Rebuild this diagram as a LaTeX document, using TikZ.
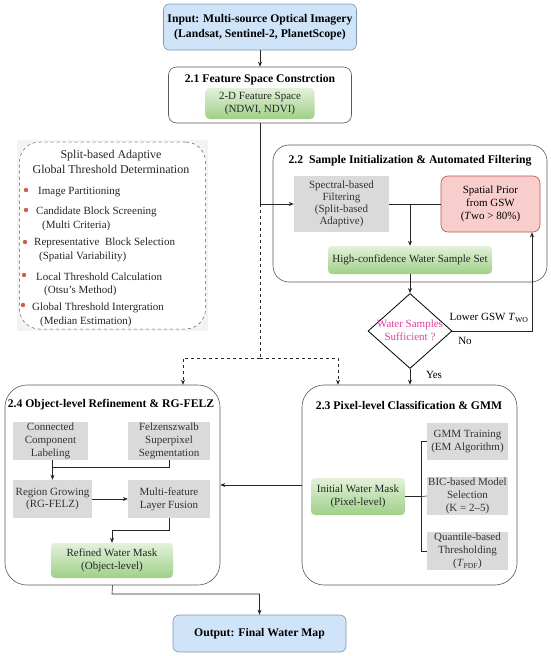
\documentclass[tikz,border=0pt]{standalone}
\usepackage{fontspec}
\setmainfont{Liberation Serif}
\usetikzlibrary{shapes.geometric,arrows.meta,calc}
\definecolor{bluefill}{HTML}{CFE4F8}
\definecolor{blueedge}{HTML}{7F97B2}
\definecolor{grayfill}{HTML}{DADADA}
\definecolor{greentop}{HTML}{E3F1DA}
\definecolor{greenbot}{HTML}{9FD088}
\definecolor{redfill}{HTML}{F8CECC}
\definecolor{rededge}{HTML}{B85450}
\definecolor{edgegray}{HTML}{5A5A5A}
\definecolor{magtext}{HTML}{E040A0}
\definecolor{bulletred}{HTML}{C8604D}
\definecolor{splitbg}{HTML}{F3F3F3}
\tikzset{
  bluebox/.style={draw=blueedge, fill=bluefill, rounded corners=6pt, line width=0.6pt,
    font=\fontsize{11.7}{14.5}\selectfont\bfseries, align=center, inner sep=0pt},
  graybox/.style={fill=grayfill, align=center, inner sep=0pt, text=black!80},
  greenbox/.style={rounded corners=4pt, top color=greentop, bottom color=greenbot,
    align=center, inner sep=0pt, text=black!85},
  redbox/.style={draw=rededge, fill=redfill, rounded corners=7pt, line width=0.6pt,
    align=center, inner sep=0pt},
  container/.style={draw=edgegray, line width=0.6pt, fill=white, inner sep=0pt},
  titletext/.style={font=\fontsize{11.7}{14}\selectfont\bfseries, inner sep=0pt},
  itemtext/.style={font=\fontsize{11}{13}\selectfont, anchor=west, inner sep=0pt, text=black!85},
  conn/.style={draw=black!85, line width=0.6pt},
  arr/.style={conn, -{Stealth[length=5pt,width=4pt]}},
  bullet/.style={fill=bulletred}
}
\begin{document}
\begin{tikzpicture}[x=1pt,y=-1pt, font=\fontsize{11}{12.8}\selectfont]
\useasboundingbox (0,0) rectangle (550,656);
\fill[white] (0,0) rectangle (550,656);

% Input
\node[bluebox, minimum width=193pt, minimum height=46pt] (in) at (260,27)
  {Input: Multi-source Optical Imagery\\(Landsat, Sentinel-2, PlanetScope)};

% 2.1
\node[container, rounded corners=8pt, minimum width=183pt, minimum height=56pt] (fsbox) at (260,95) {};
\node[titletext] (fstitle) at (260,79.5) {2.1 Feature Space Constrction};
\node[greenbox, minimum width=109pt, minimum height=31pt] (fsg) at (260,103.5)
  {2-D Feature Space\\(NDWI, NDVI)};

% Split-based box
\fill[splitbg] (17,140) rectangle (208,331);
\node[draw=edgegray, dashed, fill=white, rounded corners=20pt, line width=0.5pt,
  minimum width=186pt, minimum height=187pt, inner sep=0pt] (split) at (112.5,235.5) {};
\node[font=\fontsize{12}{15}\selectfont, align=center, inner sep=0pt, text=black!85] (splittitle) at (111,161.5)
  {Split-based Adaptive\\Global Threshold Determination};
\fill[bullet] (26,190) circle (2.2);
\fill[bullet] (26,210) circle (2.2);
\fill[bullet] (25,242) circle (2.2);
\fill[bullet] (24,275) circle (2.2);
\fill[bullet] (23,305) circle (2.2);
\node[itemtext] (s1) at (38,192) {Image Partitioning};
\node[itemtext] (s2) at (36,212) {Candidate Block Screening};
\node[itemtext] (s2b) at (42,226) {(Multi Criteria)};
\node[itemtext] (s3) at (34,243) {Representative\ \ Block Selection};
\node[itemtext] (s3b) at (39,257) {(Spatial Variability)};
\node[itemtext] (s4) at (36,277) {Local Threshold Calculation};
\node[itemtext] (s4b) at (44,291) {(Otsu's Method)};
\node[itemtext] (s5) at (32,308) {Global Threshold Intergration};
\node[itemtext] (s5b) at (40,322) {(Median Estimation)};

% 2.2
\node[container, rounded corners=16pt, minimum width=274pt, minimum height=137pt] (sibox) at (410,213.5) {};
\node[titletext] (sititle) at (410,160.5) {2.2\ \ Sample Initialization \& Automated Filtering};
\node[graybox, minimum width=95pt, minimum height=56pt, font=\fontsize{11}{12}\selectfont] (sp) at (341.5,204)
  {Spectral-based\\Filtering\\(Split-based\\Adaptive)};
\node[redbox, minimum width=99pt, minimum height=56pt] (red) at (490.5,204)
  {Spatial Prior\\from GSW\\(\textit{T}wo > 80\%)};
\node[greenbox, minimum width=164pt, minimum height=28pt] (hc) at (410,260)
  {High-confidence Water Sample Set};

% Diamond
\node[diamond, draw=black, line width=0.8pt, minimum width=84pt, minimum height=75pt, inner sep=0pt] (dm) at (410,331) {};
\node[text=magtext, align=center, inner sep=0pt, font=\fontsize{11}{13}\selectfont] (dmtext) at (410,330.5) {Water Samples\\Sufficient ?};
\node[inner sep=0pt, font=\fontsize{11}{13}\selectfont] (lowlbl) at (489,318) {Lower GSW \textit{T}\textsubscript{WO}};
\node[inner sep=0pt, font=\fontsize{11}{13}\selectfont] (nolbl) at (465,341) {No};
\node[inner sep=0pt, font=\fontsize{11}{13}\selectfont] (yeslbl) at (434,375) {Yes};

% 2.4
\node[container, rounded corners=22pt, minimum width=215pt, minimum height=200pt] (ob) at (112.5,485) {};
\node[titletext] (obtitle) at (111,405) {2.4 Object-level Refinement \& RG-FELZ};
\node[graybox, minimum width=75pt, minimum height=38pt] (ccl) at (50.5,441) {Connected\\Component\\Labeling};
\node[graybox, minimum width=82pt, minimum height=38pt] (fz) at (169,441) {Felzenszwalb\\Superpixel\\Segmentation};
\node[graybox, minimum width=79pt, minimum height=38pt] (rg) at (52.5,499) {Region Growing\\(RG-FELZ)};
\node[graybox, minimum width=82pt, minimum height=38pt] (mf) at (169,499) {Multi-feature\\Layer Fusion};
\node[greenbox, minimum width=122pt, minimum height=35pt] (rw) at (112,560.5) {Refined Water Mask\\(Object-level)};

% 2.3
\node[container, rounded corners=22pt, minimum width=215pt, minimum height=200pt] (pb) at (409.5,485) {};
\node[titletext] (pbtitle) at (409,405) {2.3 Pixel-level Classification \& GMM};
\node[greenbox, minimum width=94pt, minimum height=37pt] (iw) at (358,496.5) {Initial Water Mask\\(Pixel-level)};
\node[graybox, minimum width=81pt, minimum height=37pt] (gm) at (467.5,441.5) {GMM Training\\(EM Algorithm)};
\node[graybox, minimum width=81pt, minimum height=38pt] (bic) at (467.5,496) {BIC-based Model\\Selection\\(K = 2--5)};
\node[graybox, minimum width=81pt, minimum height=38pt] (qt) at (467.5,551) {Quantile-based\\Thresholding\\(\textit{T}\textsubscript{PDF})};

% Output
\node[bluebox, minimum width=173pt, minimum height=37pt] (out) at (259.5,633.5) {Output: Final Water Map};

% coordinates
\coordinate (jA) at (260,204);
\coordinate (jB) at (260,358);
\coordinate (jL) at (183,358);
\coordinate (jR) at (338,358);
\coordinate (jN) at (532,331);
\coordinate (jO) at (112,594);
\coordinate (jF) at (52.5,467);
\coordinate (jM) at (112,530);
\coordinate (jK) at (421,496.5);

% connectors
\draw[arr] (in.south) -- (fsbox.north);
\draw[arr] (fsbox.south) -- (jA) -- (sp.west);
\draw[conn, dashed] (jA) -- (jB);
\draw[arr, dashed] (jB) -- (jL) -- (jL |- ob.north);
\draw[arr, dashed] (jB) -- (jR) -- (jR |- pb.north);
\draw[conn] (sp.east) -- (red.west);
\draw[arr] (hc.north |- sp.east) -- (hc.north);
\draw[arr] (hc.south) -- (dm.north);
\draw[arr] (dm.east) -- (jN) -- (jN |- red.south);
\draw[arr] (dm.south) -- (dm.south |- pb.north);
\draw[arr] (pb.west) -- (ob.east);
\draw[arr] (ob.south) -- (jO) -| (out.north);

\draw[conn] (ccl.south -| rg.north) -- (jF);
\draw[arr] (fz.south) |- (jF) -- (rg.north);
\draw[arr] (rg.east) -- (mf.west);
\draw[arr] (mf.south) |- (jM) -- (rw.north);

\draw[conn] (iw.east) -- (jK);
\draw[conn] (gm.west) -| (jK);
\draw[conn] (qt.west) -| (jK);
\draw[conn] (jK) -- (bic.west);
\end{tikzpicture}
\end{document}
